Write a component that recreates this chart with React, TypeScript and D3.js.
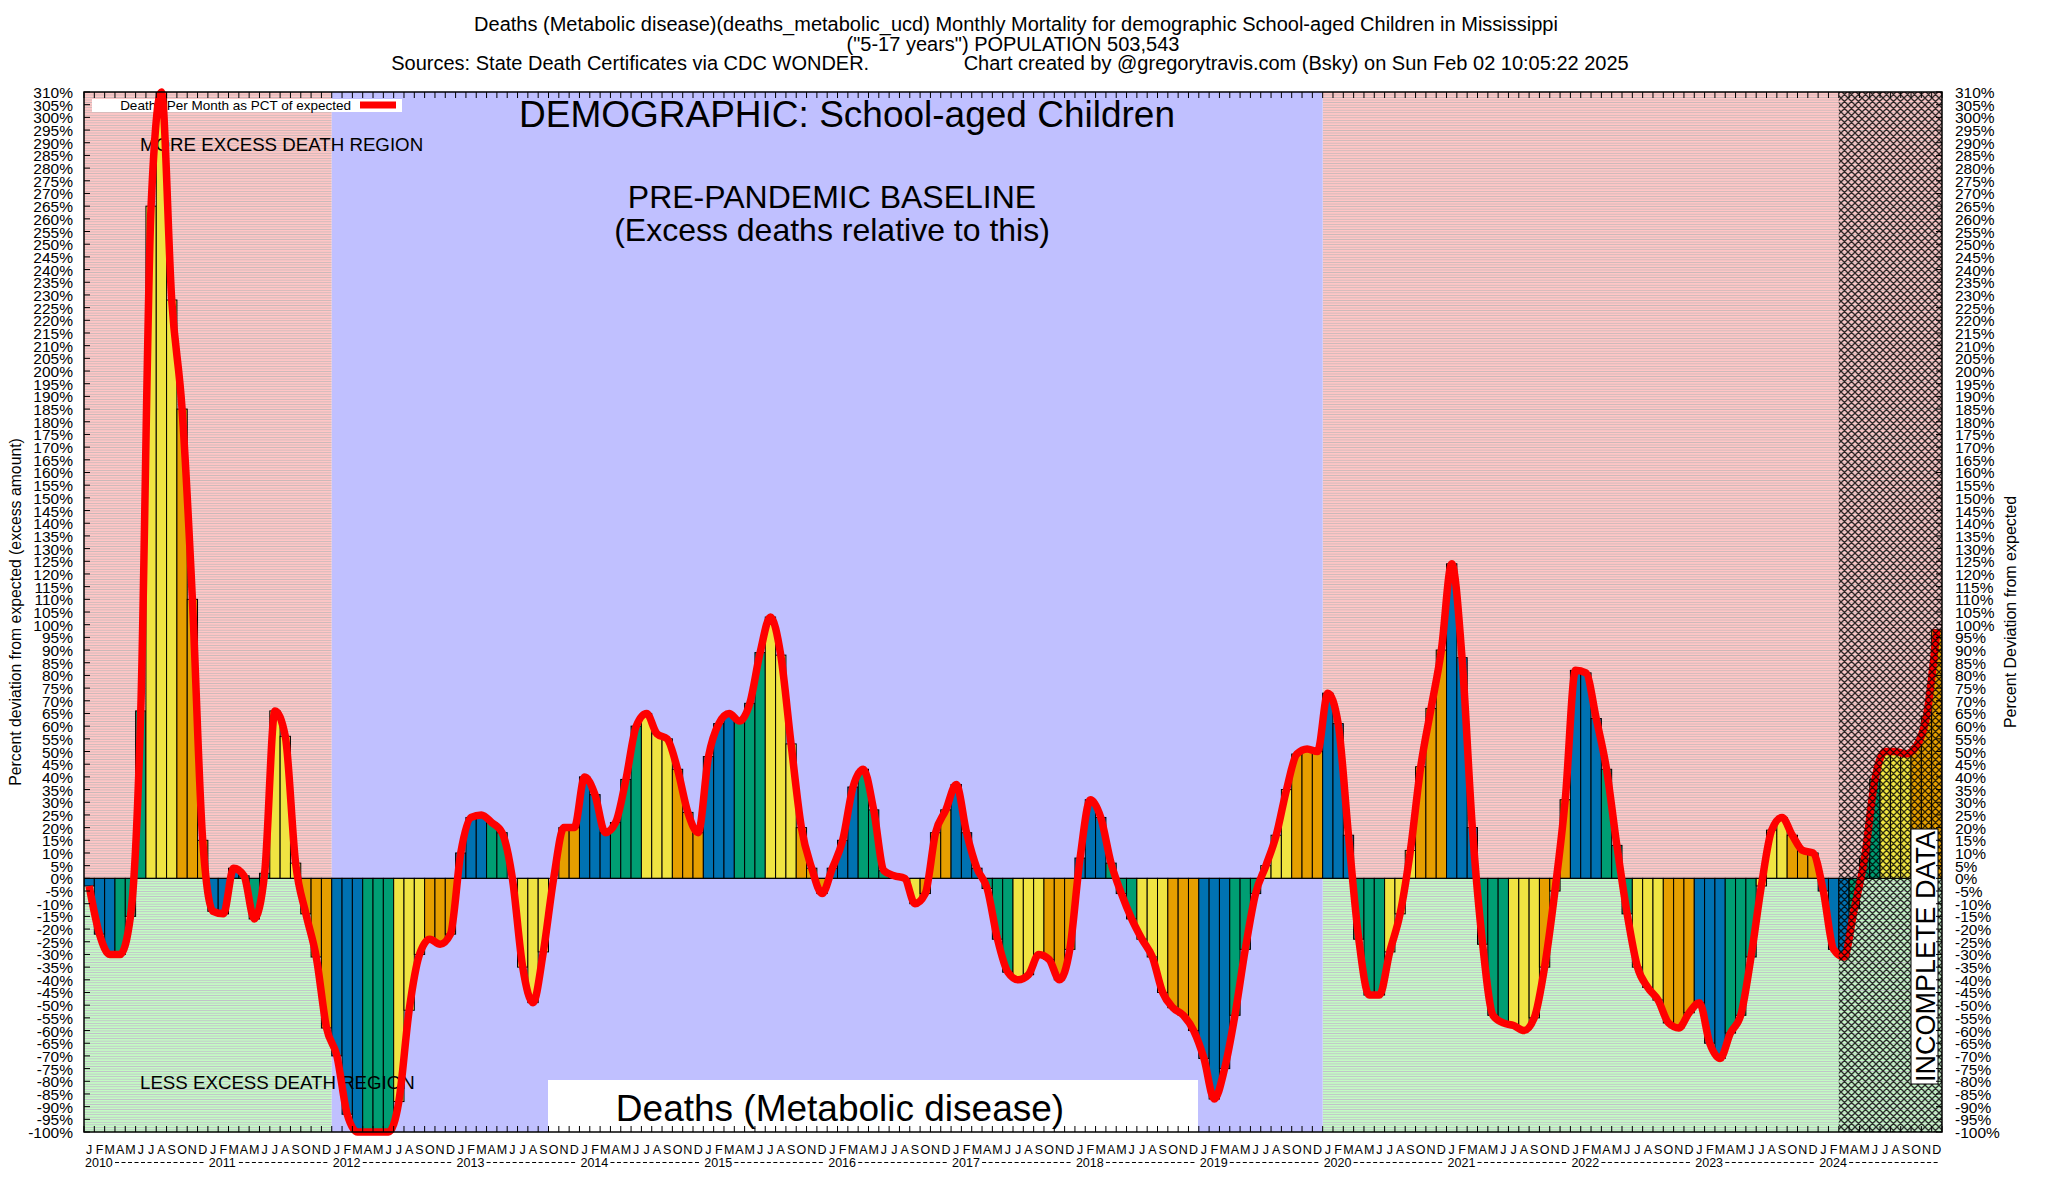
import React from "react";
import * as d3 from "d3";

const W = 2048;
const H = 1200;
const plot = { left: 84, right: 1942, top: 92, bottom: 1132 };

const monthLetters = ["J", "F", "M", "A", "M", "J", "J", "A", "S", "O", "N", "D"];
const years = [2010, 2011, 2012, 2013, 2014, 2015, 2016, 2017, 2018, 2019, 2020, 2021, 2022, 2023, 2024];

// percent deviation from expected, one value per month
const pct2010 = [-3, -22, -30, -30, -15, 66, 265, 310, 228, 185, 110, 15];
const pct2011 = [-13, -14, 4, 1, -16, 2, 66, 56, 6, -14, -31, -59];
const pct2012 = [-70, -93, -100, -100, -100, -100, -88, -52, -30, -24, -26, -22];
const pct2013 = [10, 24, 25, 22, 18, 0, -35, -49, -29, 0, 20, 20];
const pct2014 = [40, 33, 18, 22, 39, 60, 65, 57, 55, 43, 26, 18];
const pct2015 = [48, 61, 65, 62, 69, 89, 103, 88, 53, 20, 4, -6];
const pct2016 = [4, 15, 36, 43, 27, 3, 1, 0, -10, -6, 18, 27];
const pct2017 = [37, 18, 4, -4, -24, -37, -40, -38, -30, -32, -40, -28];
const pct2018 = [8, 31, 24, 6, -6, -16, -24, -31, -45, -51, -54, -60];
const pct2019 = [-71, -87, -75, -54, -28, -6, 5, 17, 35, 49, 51, 50];
const pct2020 = [73, 61, 17, -24, -46, -46, -29, -14, 11, 44, 67, 90];
const pct2021 = [124, 87, 20, -26, -54, -57, -58, -60, -55, -35, -5, 31];
const pct2022 = [82, 81, 63, 43, 13, -14, -35, -43, -48, -57, -59, -53];
const pct2023 = [-49, -65, -71, -61, -54, -31, -3, 19, 24, 17, 11, 10];
const pct2024 = [-5, -28, -31, -12, 8, 39, 50, 50, 49, 52, 64, 98];

const values = [
  ...pct2010, ...pct2011, ...pct2012, ...pct2013, ...pct2014,
  ...pct2015, ...pct2016, ...pct2017, ...pct2018, ...pct2019,
  ...pct2020, ...pct2021, ...pct2022, ...pct2023, ...pct2024,
];

// colour per quarter of the year
const quarterColors = ["#0072b2", "#009e73", "#f0e442", "#e69f00"];
const yTicks = d3.range(-100, 311, 5);

// month index ranges
const excessPeriods = [
  { start: 0, end: 24 },
  { start: 120, end: 180 },
];
const baselinePeriod = { start: 24, end: 120 };
const incompleteFrom = 170;

const FONT = "'Liberation Sans', Arial, Helvetica, sans-serif";

export default function App() {
  const n = values.length;
  const x = d3.scaleLinear().domain([0, n]).range([plot.left, plot.right]);
  const y = d3.scaleLinear().domain([-100, 310]).range([plot.bottom, plot.top]);
  const y0 = y(0);
  const step = y(0) - y(1);

  const line = d3
    .line<number>()
    .x((_, i) => x(i + 0.5))
    .y((d) => y(d))
    .curve(d3.curveMonotoneX);

  const plotW = plot.right - plot.left;
  const plotH = plot.bottom - plot.top;

  return (
    <svg
      width={W}
      height={H}
      style={{ position: "absolute", left: 0, top: 0, background: "#fff" }}
      fontFamily={FONT}
    >
      <defs>
        <clipPath id="plotClip">
          <rect x={plot.left} y={plot.top} width={plotW} height={plotH} />
        </clipPath>
        <pattern id="pinkStripes" patternUnits="userSpaceOnUse" width={8} height={step} y={y0}>
          <rect width={8} height={step} fill="#ffc6c6" />
          <rect width={8} height={0.6} fill="#b4b4b4" />
        </pattern>
        <pattern id="greenStripes" patternUnits="userSpaceOnUse" width={8} height={step} y={y0}>
          <rect width={8} height={step} fill="#c4fac4" />
          <rect width={8} height={0.6} fill="#c0a8cc" />
        </pattern>
        <pattern id="crossHatch" patternUnits="userSpaceOnUse" width={7} height={7}>
          <path d="M0,0 L7,7 M7,0 L0,7 M-1,6 L1,8 M6,-1 L8,1 M6,8 L8,6 M-1,1 L1,-1" stroke="#000" strokeWidth={1.3} opacity={0.8} />
        </pattern>
      </defs>

      {/* titles */}
      <g fontSize={20} textAnchor="middle" fill="#000">
        <text x={1016} y={31}>
          Deaths (Metabolic disease)(deaths_metabolic_ucd) Monthly Mortality for demographic School-aged Children in Mississippi
        </text>
        <text x={1013} y={50.5}>("5-17 years") POPULATION 503,543</text>
        <text x={1010} y={70} style={{ whiteSpace: "pre" }}>
          {"Sources: State Death Certificates via CDC WONDER.                 Chart created by @gregorytravis.com (Bsky) on Sun Feb 02 10:05:22 2025"}
        </text>
      </g>

      {/* background regions */}
      <g>
        {excessPeriods.map((p, i) => (
          <g key={i}>
            <rect x={x(p.start)} y={plot.top} width={x(p.end) - x(p.start)} height={y0 - plot.top} fill="url(#pinkStripes)" />
            <rect x={x(p.start)} y={y0} width={x(p.end) - x(p.start)} height={plot.bottom - y0} fill="url(#greenStripes)" />
          </g>
        ))}
        <rect
          x={x(baselinePeriod.start)}
          y={plot.top}
          width={x(baselinePeriod.end) - x(baselinePeriod.start)}
          height={plotH}
          fill="#c0c0ff"
        />
      </g>

      {/* legend */}
      <rect x={92} y={99} width={310} height={13} fill="#fff" />
      <text x={351} y={110} fontSize={13.5} textAnchor="end">Deaths Per Month as PCT of expected</text>
      <line x1={360} x2={396} y1={105} y2={105} stroke="#ff0000" strokeWidth={7} />

      {/* bars */}
      <g clipPath="url(#plotClip)">
        {values.map((v, i) => (
          <rect
            key={i}
            x={x(i)}
            y={Math.min(y(v), y0)}
            width={x(i + 1) - x(i)}
            height={Math.abs(y(v) - y0)}
            fill={quarterColors[Math.floor((i % 12) / 3)]}
            stroke="#000"
            strokeWidth={1}
          />
        ))}
      </g>
      <line x1={plot.left} x2={plot.right} y1={y0} y2={y0} stroke="#000" strokeWidth={1} />

      {/* annotations */}
      <text x={140} y={151} fontSize={18.7}>MORE EXCESS DEATH REGION</text>
      <text x={140} y={1089} fontSize={18.7}>LESS EXCESS DEATH REGION</text>
      <text x={847} y={127} fontSize={37} textAnchor="middle">DEMOGRAPHIC: School-aged Children</text>
      <text x={832} y={208} fontSize={32} textAnchor="middle">PRE-PANDEMIC BASELINE</text>
      <text x={832} y={241} fontSize={32} textAnchor="middle">(Excess deaths relative to this)</text>
      <rect x={548} y={1080} width={650} height={52} fill="#fff" />
      <text x={840} y={1121} fontSize={37} textAnchor="middle">Deaths (Metabolic disease)</text>

      {/* smoothed line */}
      <path d={line(values) ?? ""} fill="none" stroke="#ff0000" strokeWidth={7.5} strokeLinejoin="round" />

      {/* incomplete data */}
      <rect x={x(incompleteFrom)} y={plot.top} width={x(n) - x(incompleteFrom)} height={plotH} fill="url(#crossHatch)" />
      <rect x={1911} y={829} width={27} height={255} fill="#fff" stroke="#000" strokeWidth={1} />
      <text transform={`translate(1934.5,956.5) rotate(-90)`} fontSize={27} textAnchor="middle">INCOMPLETE DATA</text>

      {/* frame and ticks */}
      <rect x={plot.left} y={plot.top} width={plotW} height={plotH} fill="none" stroke="#000" strokeWidth={1.5} />
      <g stroke="#000" strokeWidth={1}>
        {yTicks.map((t) => (
          <g key={t}>
            <line x1={plot.left} x2={plot.left + 6} y1={y(t)} y2={y(t)} />
            <line x1={plot.right - 6} x2={plot.right} y1={y(t)} y2={y(t)} />
          </g>
        ))}
        {d3.range(n + 1).map((i) => (
          <g key={i}>
            <line x1={x(i)} x2={x(i)} y1={plot.bottom} y2={plot.bottom - 6} />
            <line x1={x(i)} x2={x(i)} y1={plot.top} y2={plot.top + 6} />
          </g>
        ))}
      </g>

      {/* y tick labels */}
      <g fontSize={15.5}>
        {yTicks.map((t) => (
          <g key={t}>
            <text x={73} y={y(t) + 6} textAnchor="end">{`${t}%`}</text>
            <text x={1955} y={y(t) + 6}>{`${t}%`}</text>
          </g>
        ))}
      </g>

      {/* x tick labels */}
      <g fontSize={12.5}>
        {values.map((_, i) => (
          <text key={i} x={x(i + 0.5)} y={1154} textAnchor="middle">{monthLetters[i % 12]}</text>
        ))}
        {years.map((yr, k) => {
          const x0 = x(k * 12);
          const x1 = x(k * 12 + 12);
          return (
            <g key={yr}>
              <text x={x0 + 1} y={1167}>{yr}</text>
              <line x1={x0 + 31} x2={x1 - 2} y1={1162.5} y2={1162.5} stroke="#000" strokeWidth={1.2} strokeDasharray="4,2.5" />
            </g>
          );
        })}
      </g>

      {/* axis titles */}
      <text transform="translate(21,612) rotate(-90)" fontSize={15.8} textAnchor="middle">
        Percent deviation from expected (excess amount)
      </text>
      <text transform="translate(2016,612) rotate(-90)" fontSize={16} textAnchor="middle">
        Percent Deviation from expected
      </text>
    </svg>
  );
}
